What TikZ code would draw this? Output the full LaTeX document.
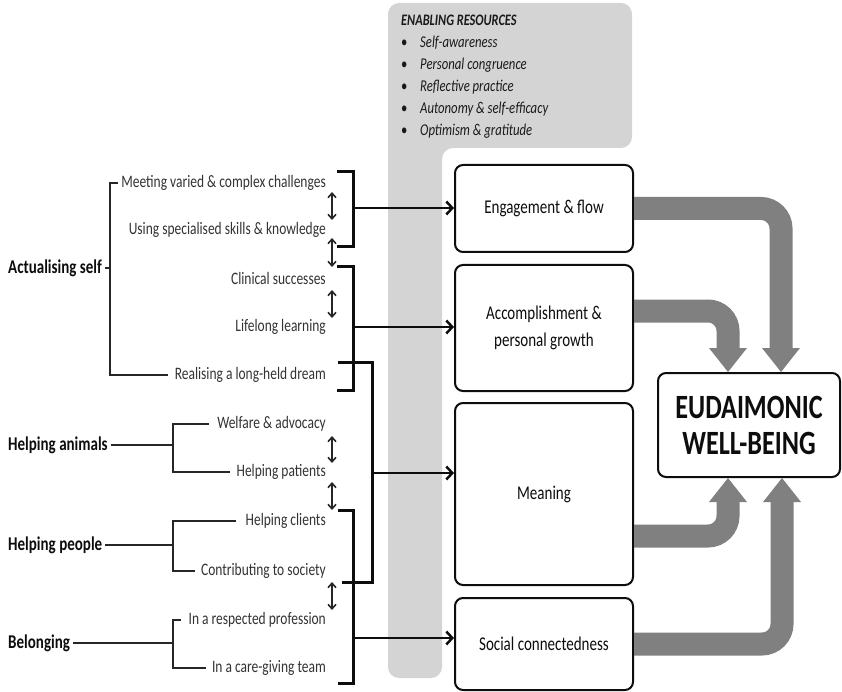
\documentclass[tikz,border=0pt]{standalone}
\usepackage{fontspec}
\setmainfont{Carlito}[FakeStretch=0.77]
\usetikzlibrary{arrows.meta,calc}
\definecolor{resgray}{HTML}{D4D4D4}
\definecolor{flowgray}{HTML}{808080}
\definecolor{labgray}{HTML}{333333}
\begin{document}
\begin{tikzpicture}[x=1pt,y=-1pt,
  item/.style={anchor=east, inner sep=2pt, text=labgray, font=\fontsize{17.5}{20}\selectfont},
  theme/.style={anchor=west, inner sep=3pt, text=black!95, font=\bfseries\fontsize{19.5}{22}\selectfont},
  res/.style={anchor=west, inner sep=0pt, text=black!90, font=\itshape\fontsize{16.5}{19}\selectfont},
  outcome/.style={draw=black!95, line width=2pt, rounded corners=8pt, fill=white,
    minimum width=178pt, align=center, text=black!95, font=\fontsize{19.5}{27}\selectfont},
  grp/.style={line width=1.6pt, draw=black!85},
  brace/.style={line width=3pt, draw=black!95},
  feed/.style={line width=2.5pt, draw=black!95, -{Straight Barb[length=6pt,width=13pt]}},
  link/.style={line width=1.6pt, draw=black!85,
    {Straight Barb[length=4.5pt,width=8pt]}-{Straight Barb[length=4.5pt,width=8pt]}},
  flow/.style={line width=23pt, draw=flowgray, rounded corners=20pt,
    -{Triangle[width=38pt,length=24pt,line width=0pt]}}
]
\useasboundingbox (0,0) rectangle (842,692);

% enabling resources panel
\fill[resgray, rounded corners=11pt]
  (388,678) -- (388,3) -- (632,3) -- (632,148) -- (442,148) -- (442,678) -- cycle;
\node[res, font=\bfseries\itshape\fontsize{16}{19}\selectfont] (rtitle) at (401,20) {ENABLING RESOURCES};
\node[res] (r1) at (401,43)  {\makebox[19pt][l]{\upshape\textbullet}Self-awareness};
\node[res] (r2) at (401,65)  {\makebox[19pt][l]{\upshape\textbullet}Personal congruence};
\node[res] (r3) at (401,87)  {\makebox[19pt][l]{\upshape\textbullet}Reflective practice};
\node[res] (r4) at (401,109) {\makebox[19pt][l]{\upshape\textbullet}Autonomy \& self-efficacy};
\node[res] (r5) at (401,131) {\makebox[19pt][l]{\upshape\textbullet}Optimism \& gratitude};

% sources
\node[item] (m1) at (328,183) {Meeting varied \& complex challenges};
\node[item] (m2) at (328,230) {Using specialised skills \& knowledge};
\node[item] (m3) at (328,278) {Clinical successes};
\node[item] (m4) at (328,327) {Lifelong learning};
\node[item] (m5) at (328,375) {Realising a long-held dream};
\node[item] (w1) at (328,424) {Welfare \& advocacy};
\node[item] (w2) at (328,472) {Helping patients};
\node[item] (p1) at (328,521) {Helping clients};
\node[item] (p2) at (328,571) {Contributing to society};
\node[item] (g1) at (328,620) {In a respected profession};
\node[item] (g2) at (328,668) {In a care-giving team};

% themes
\node[theme] (act) at (5,268) {Actualising self};
\node[theme] (ani) at (5,445) {Helping animals};
\node[theme] (peo) at (5,545) {Helping people};
\node[theme] (bel) at (5,643) {Belonging};

\coordinate (actx) at (110,268);
\coordinate (anix) at (173,445);
\coordinate (peox) at (173,545);
\coordinate (belx) at (173,643);
\draw[grp] (act.east) -- (actx);
\draw[grp] ([xshift=-1pt]m1.west) -| (actx) |- ([xshift=-5pt]m5.west);
\draw[grp] (ani.east) -- (anix);
\draw[grp] ([xshift=-6pt]w1.west) -| (anix) |- ([xshift=-4pt]w2.west);
\draw[grp] (peo.east) -- (peox);
\draw[grp] ([xshift=-7pt]p1.west) -| (peox) |- ([xshift=-4pt]p2.west);
\draw[grp] (bel.east) -- (belx);
\draw[grp] ([xshift=-5pt]g1.west) -| (belx) |- ([xshift=-4pt]g2.west);

% mutual links between neighbouring sources
\foreach \i/\ya/\yb in {1/192/220, 2/238/267, 3/290/318, 4/436/463, 5/482/510, 6/582/610} {
  \coordinate (la\i) at (332,\ya);
  \coordinate (lb\i) at (332,\yb);
  \draw[link] (la\i) -- (lb\i);
}

% outcomes
\node[outcome, minimum height=87pt]  (eng) at (544,208.5) {Engagement \& flow};
\node[outcome, minimum height=126pt] (acc) at (544,328) {Accomplishment \&\\personal growth};
\node[outcome, minimum height=182pt] (mea) at (544,494) {Meaning};
\node[outcome, minimum height=92pt]  (soc) at (544,644) {Social connectedness};
\node[outcome, minimum width=182pt, minimum height=104pt,
      font=\bfseries\fontsize{34}{36}\selectfont] (eud) at (749,425) {EUDAIMONIC\\WELL-BEING};

% brackets feeding the outcomes
\coordinate (b1t) at (337,172); \coordinate (b1m) at (353,208); \coordinate (b1b) at (337,247);
\coordinate (b2t) at (337,267); \coordinate (b2m) at (353,327); \coordinate (b2b) at (337,390);
\coordinate (b3t) at (338,362); \coordinate (b3m) at (372,473); \coordinate (b3b) at (342,582);
\coordinate (b4t) at (338,510); \coordinate (b4m) at (353,638); \coordinate (b4b) at (338,683);
\draw[brace] (b1t) -| (b1m) |- (b1b);
\draw[brace] (b2t) -| (b2m) |- (b2b);
\draw[brace] (b3t) -| (b3m) |- (b3b);
\draw[brace] (b4t) -| (b4m) |- (b4b);
\draw[feed] (b1m) -- (eng.west |- b1m);
\draw[feed] (b2m) -- (acc.west |- b2m);
\draw[feed] (b3m) -- (mea.west |- b3m);
\draw[feed] (b4m) -- (soc.west |- b4m);

% outcomes into well-being
\draw[flow] (eng.east) -| ([xshift=32pt]eud.north);
\draw[flow] ([yshift=17pt]acc.east) -| ([xshift=-21pt]eud.north);
\draw[flow] ([yshift=-42pt]mea.east) -| ([xshift=-21pt]eud.south);
\draw[flow] (soc.east) -| ([xshift=33pt]eud.south);
\end{tikzpicture}
\end{document}
